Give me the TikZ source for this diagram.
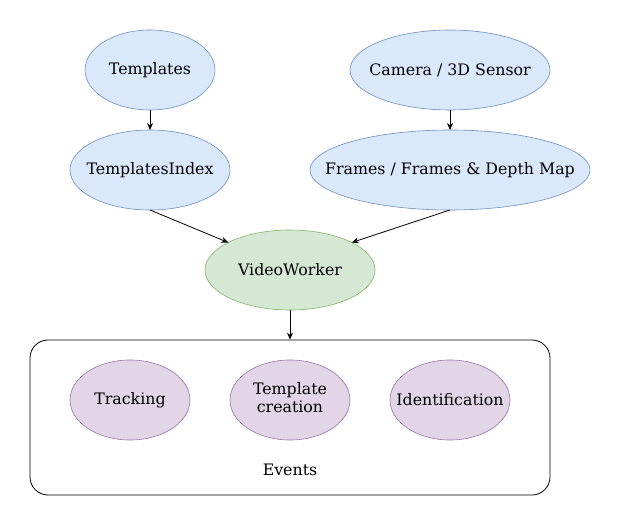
\documentclass[tikz,border=0pt]{standalone}
\usepackage{fontspec}
\setmainfont{DejaVu Serif}
\usetikzlibrary{shapes.geometric,arrows.meta}
\definecolor{bluefill}{HTML}{DAE8FC}
\definecolor{bluedraw}{HTML}{6C8EBF}
\definecolor{greenfill}{HTML}{D5E8D4}
\definecolor{greendraw}{HTML}{82B366}
\definecolor{purplefill}{HTML}{E1D5E7}
\definecolor{purpledraw}{HTML}{9673A6}
\newcommand{\zw}[1]{\makebox[0pt][c]{#1}}
\begin{document}
\begin{tikzpicture}[x=1pt,y=-1pt,
  every node/.style={font=\fontsize{15.8}{18}\selectfont},
  ell/.style={ellipse,inner sep=0pt,outer sep=0pt,line width=0.6pt},
  blueell/.style={ell,fill=bluefill,draw=bluedraw},
  greenell/.style={ell,fill=greenfill,draw=greendraw},
  purpleell/.style={ell,fill=purplefill,draw=purpledraw},
  arr/.style={-{Stealth[length=7pt,width=6pt]},line width=0.8pt}]
\useasboundingbox (0,0) rectangle (621,526);
\node[blueell,minimum width=130,minimum height=80] (templates) at (150,70) {\zw{Templates}};
\node[blueell,minimum width=200,minimum height=80] (camera) at (450,70) {\zw{Camera / 3D Sensor}};
\node[blueell,minimum width=160,minimum height=80] (tindex) at (150,170) {\zw{TemplatesIndex}};
\node[blueell,minimum width=280,minimum height=80] (frames) at (450,170) {\zw{Frames / Frames \& Depth Map}};
\node[greenell,minimum width=170,minimum height=80] (vw) at (290,270) {\zw{VideoWorker}};
\node[draw=black,rounded corners=18pt,line width=0.8pt,minimum width=520,minimum height=155,inner sep=0pt] (events) at (290,417.5) {};
\node (evlabel) at (290,470) {Events};
\node[purpleell,minimum width=120,minimum height=80] (tracking) at (130,400) {\zw{Tracking}};
\node[purpleell,minimum width=120,minimum height=80] (tcreation) at (290,400) {\zw{\begin{tabular}{@{}c@{}}Template\\creation\end{tabular}}};
\node[purpleell,minimum width=120,minimum height=80] (ident) at (450,400) {\zw{Identification}};
\draw[arr] (templates.south) -- (tindex.north);
\draw[arr] (camera.south) -- (frames.north);
\draw[arr] (tindex.south) -- (vw.156);
\draw[arr] (frames.south) -- (vw.24);
\draw[arr] (vw.south) -- (events.north);
\end{tikzpicture}
\end{document}
